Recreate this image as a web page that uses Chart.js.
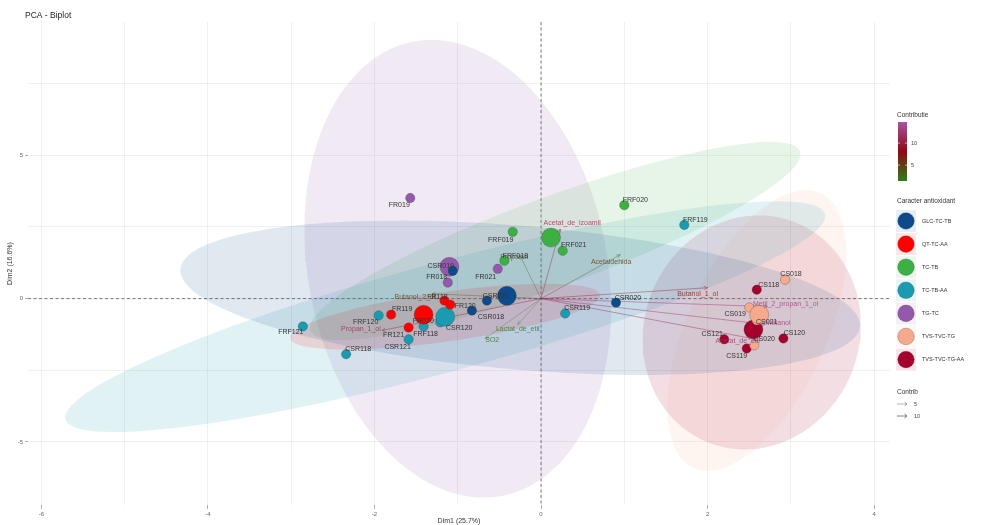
<!DOCTYPE html>
<html>
<head>
<meta charset="utf-8">
<script src="https://cdn.jsdelivr.net/npm/chart.js@4.4.1/dist/chart.umd.min.js"></script>
<style>
  html, body { margin: 0; padding: 0; background: #fff; }
  #wrap { width: 981px; height: 525px; }
</style>
</head>
<body>
<div id="wrap"><canvas id="mychart" width="981" height="525"></canvas></div>
<script>
// grupuri (Caracter antioxidant)
var grupuri = ['GLC-TC-TB', 'QT-TC-AA', 'TC-TB', 'TC-TB-AA', 'TG-TC', 'TVS-TVC-TG', 'TVS-TVC-TG-AA'];
var culoriGrup = ['#0c4a8c', '#ff0000', '#3cb043', '#1a9bb2', '#9459ad', '#f7aa8b', '#a6002c'];

// indivizi
var indivizi = ['CSR018', 'CSR019', 'CSR020', 'CSR021',
  'FR020', 'FR118', 'FR119', 'FR120', 'FR121',
  'FRF018', 'FRF019', 'FRF020', 'FRF021',
  'CSR118', 'CSR119', 'CSR120', 'CSR121', 'FRF118', 'FRF119', 'FRF120', 'FRF121',
  'FR018', 'FR019', 'FR021',
  'CS018', 'CS019', 'CS020', 'CS021',
  'CS118', 'CS119', 'CS120', 'CS121'];
var grupInd = [0, 0, 0, 0, 1, 1, 1, 1, 1, 2, 2, 2, 2, 3, 3, 3, 3, 3, 3, 3, 3, 4, 4, 4, 5, 5, 5, 5, 6, 6, 6, 6];
var dim1 = [-0.83, -1.06, 0.90, -0.65,
  -1.39, -1.16, -1.80, -1.09, -1.59,
  -0.44, -0.34, 1.00, 0.26,
  -2.34, 0.29, -1.21, -1.59, -1.41, 1.72, -1.95, -2.86,
  -1.12, -1.57, -0.52,
  2.93, 2.50, 2.56, 2.59,
  2.59, 2.47, 2.91, 2.20];
var dim2 = [-0.42, 0.97, -0.14, -0.07,
  -0.69, -0.07, -0.56, -0.21, -1.01,
  1.32, 2.33, 3.26, 1.67,
  -1.94, -0.52, -0.83, -1.42, -0.97, 2.57, -0.59, -0.97,
  0.56, 3.51, 1.04,
  0.66, -0.31, -1.63, -0.76,
  0.31, -1.74, -1.39, -1.42];

// centrele grupurilor
var medieDim1 = [-0.41, -1.41, 0.12, -1.15, -1.10, 2.62, 2.55];
var medieDim2 = [0.10, -0.56, 2.13, -0.63, 1.11, -0.56, -1.08];

// variabile
var variabile = ['Acetat_de_izoamil', 'Acetaldehida', 'Butanol_1_ol', 'Metil_2_propan_1_ol', 'Metanol',
  'Acetat_de_etil', 'Propanol', 'Butanol_2_ol', 'Propan_1_ol', 'Lactat_de_etil', 'SO2'];
var varDim1 = [0.23, 0.95, 2.00, 2.72, 2.69, 2.53, -0.25, -1.31, -1.91, -0.28, -0.67];
var varDim2 = [2.43, 1.53, 0.38, -0.28, -0.90, -1.39, 1.49, 0.17, -1.11, -0.90, -1.39];
var contrib = [11, 5, 7, 13, 13, 12, 4, 5, 11, 1.5, 2.5];

// elipse: centru + doi vectori conjugati (unitati Dim1/Dim2)
var elCx = [-0.25, -1.15, 0.17, -1.15, -1.00, 2.59, 2.53];
var elCy = [0.03, -0.63, 2.01, -0.63, 1.04, -1.11, -1.18];
var elUx = [4.08, 1.86, 2.94, 4.56, -0.54, 0.76, 0.36];
var elUy = [-1.00, 0.76, 3.13, 3.58, 7.92, 4.79, 3.99];
var elVx = [-0.07, 0.04, 0.19, 0.17, 1.76, 0.76, 1.26];
var elVy = [-2.50, -0.86, -1.46, -1.84, 1.01, -1.00, -0.87];

var xTicks = [-6, -4, -2, 0, 2, 4];
var yTicks = [-5, 0, 5];

// pozitii etichete (px fata de punct)
var offInd = {
  CSR018: [19, 6], CSR019: [-12, -5], CSR020: [12, -5], CSR021: [9, -5],
  FR020: [-2, 3], FR118: [-7, -4], FR119: [11, -6], FR120: [15, 1], FR121: [-15, 7],
  FRF018: [11, -5], FRF019: [-12, 8], FRF020: [11, -5], FRF021: [11, -6],
  CSR118: [12, -5], CSR119: [12, -5], CSR120: [19, 6], CSR121: [-11, 8],
  FRF118: [2, 8], FRF119: [11, -5], FRF120: [-13, 7], FRF121: [-12, 6],
  FR018: [-11, -5], FR019: [-11, 7], FR021: [-12, 8],
  CS018: [6, -6], CS019: [-14, 7], CS020: [10, -6], CS021: [10, 2],
  CS118: [12, -5], CS119: [-10, 8], CS120: [11, -5], CS121: [-12, -5]
};
var offVar = {
  Acetat_de_izoamil: [12, -6], Acetaldehida: [-9, 7], Butanol_1_ol: [-10, 6],
  Metil_2_propan_1_ol: [18, -3], Metanol: [13, -1], Acetat_de_etil: [-14, 3],
  Propanol: [-6, 1], Butanol_2_ol: [-17, 3], Propan_1_ol: [-21, -1],
  Lactat_de_etil: [0, 5], SO2: [7, 2]
};

var cMin = 1.4, cMax = 14.8;
var stopuri = [[46, 125, 30], [139, 10, 20], [166, 84, 160]];

function culoareContrib(c, a) {
  var t = (c - cMin) / (cMax - cMin);
  t = Math.max(0, Math.min(1, t));
  var s, k;
  if (t < 0.5) { s = 0; k = t / 0.5; } else { s = 1; k = (t - 0.5) / 0.5; }
  var p = stopuri[s], q = stopuri[s + 1];
  var r = Math.round(p[0] + (q[0] - p[0]) * k);
  var g = Math.round(p[1] + (q[1] - p[1]) * k);
  var b = Math.round(p[2] + (q[2] - p[2]) * k);
  return 'rgba(' + r + ',' + g + ',' + b + ',' + a + ')';
}

function hexRgba(h, a) {
  var r = parseInt(h.substr(1, 2), 16), g = parseInt(h.substr(3, 2), 16), b = parseInt(h.substr(5, 2), 16);
  return 'rgba(' + r + ',' + g + ',' + b + ',' + a + ')';
}

function punctePeElipsa(i) {
  var pts = [];
  for (var k = 0; k <= 120; k++) {
    var t = k / 120 * Math.PI * 2;
    pts.push({
      x: elCx[i] + elUx[i] * Math.cos(t) + elVx[i] * Math.sin(t),
      y: elCy[i] + elUy[i] * Math.cos(t) + elVy[i] * Math.sin(t)
    });
  }
  return pts;
}

var datasets = [];

// elipse
grupuri.forEach(function (g, i) {
  datasets.push({
    tip: 'elipsa',
    data: punctePeElipsa(i),
    showLine: true,
    fill: 'shape',
    backgroundColor: hexRgba(culoriGrup[i], 0.13),
    borderColor: 'rgba(0,0,0,0)',
    borderWidth: 0,
    pointRadius: 0,
    order: 3
  });
});

// sageti variabile
variabile.forEach(function (v, i) {
  datasets.push({
    tip: 'sageata',
    nume: v,
    data: [{ x: 0, y: 0 }, { x: varDim1[i], y: varDim2[i] }],
    showLine: true,
    fill: false,
    borderColor: culoareContrib(contrib[i], 0.55),
    borderWidth: 0.5 + contrib[i] * 0.03,
    pointRadius: 0,
    order: 2
  });
});

// puncte (indivizi + media grupului)
grupuri.forEach(function (g, i) {
  var pts = [], nume = [], raze = [];
  indivizi.forEach(function (n, j) {
    if (grupInd[j] === i) {
      pts.push({ x: dim1[j], y: dim2[j] });
      nume.push(n);
      raze.push(4.7);
    }
  });
  pts.push({ x: medieDim1[i], y: medieDim2[i] });
  nume.push('');
  raze.push(9.5);
  datasets.push({
    tip: 'puncte',
    nume: nume,
    data: pts,
    backgroundColor: culoriGrup[i],
    borderColor: 'rgba(60,60,60,0.5)',
    borderWidth: 0.6,
    pointRadius: raze,
    order: 1
  });
});

var desenExtra = {
  id: 'desenExtra',
  beforeDatasetsDraw: function (chart) {
    var c = chart.ctx, a = chart.chartArea;
    var xs = chart.scales.x, ys = chart.scales.y;
    var x0 = xs.getPixelForValue(0), y0 = ys.getPixelForValue(0);
    c.save();
    c.strokeStyle = '#444';
    c.lineWidth = 0.7;
    c.setLineDash([3, 2.5]);
    c.beginPath();
    c.moveTo(x0, a.top); c.lineTo(x0, a.bottom);
    c.moveTo(a.left, y0); c.lineTo(a.right, y0);
    c.stroke();
    c.restore();
  },
  afterDatasetsDraw: function (chart) {
    var c = chart.ctx;
    c.save();
    c.textAlign = 'center';
    c.textBaseline = 'middle';
    chart.data.datasets.forEach(function (ds, di) {
      var meta = chart.getDatasetMeta(di);
      if (ds.tip === 'sageata') {
        var p0 = meta.data[0], p1 = meta.data[1];
        var ang = Math.atan2(p1.y - p0.y, p1.x - p0.x);
        c.strokeStyle = ds.borderColor;
        c.lineWidth = ds.borderWidth;
        c.beginPath();
        c.moveTo(p1.x - 4 * Math.cos(ang - 0.45), p1.y - 4 * Math.sin(ang - 0.45));
        c.lineTo(p1.x, p1.y);
        c.lineTo(p1.x - 4 * Math.cos(ang + 0.45), p1.y - 4 * Math.sin(ang + 0.45));
        c.stroke();
      }
    });
    // etichete variabile
    c.font = '7px "Liberation Sans", Arial, sans-serif';
    chart.data.datasets.forEach(function (ds, di) {
      if (ds.tip !== 'sageata') return;
      var p1 = chart.getDatasetMeta(di).data[1];
      var o = offVar[ds.nume] || [0, 0];
      var i = variabile.indexOf(ds.nume);
      c.fillStyle = culoareContrib(contrib[i], 0.8);
      c.fillText(ds.nume, p1.x + o[0], p1.y + o[1]);
    });
    // etichete indivizi
    c.fillStyle = '#333';
    chart.data.datasets.forEach(function (ds, di) {
      if (ds.tip !== 'puncte') return;
      var meta = chart.getDatasetMeta(di);
      ds.nume.forEach(function (n, k) {
        if (!n) return;
        var p = meta.data[k];
        var o = offInd[n] || [0, -8];
        c.fillText(n, p.x + o[0], p.y + o[1]);
      });
    });
    c.restore();
  },
  afterDraw: function (chart) {
    var c = chart.ctx, a = chart.chartArea;
    c.save();
    c.fillStyle = '#222';
    c.textBaseline = 'middle';
    c.font = '8.5px "Liberation Sans", Arial, sans-serif';
    c.textAlign = 'left';
    c.fillText('PCA - Biplot', 25, 16);
    c.fillStyle = '#333';
    c.font = '7px "Liberation Sans", Arial, sans-serif';
    c.textAlign = 'center';
    c.fillText('Dim1 (25.7%)', (a.left + a.right) / 2, 521);
    c.save();
    c.translate(10, (a.top + a.bottom) / 2);
    c.rotate(-Math.PI / 2);
    c.fillText('Dim2 (16.6%)', 0, 0);
    c.restore();

    // legenda Contributie
    var lx = 897;
    c.textAlign = 'left';
    c.font = '6.5px "Liberation Sans", Arial, sans-serif';
    c.fillStyle = '#333';
    c.fillText('Contributie', lx, 115);
    var gTop = 122, gBot = 181;
    var grad = c.createLinearGradient(0, gBot, 0, gTop);
    grad.addColorStop(0, 'rgb(46,125,30)');
    grad.addColorStop(0.5, 'rgb(139,10,20)');
    grad.addColorStop(1, 'rgb(166,84,160)');
    c.fillStyle = grad;
    c.fillRect(lx + 1, gTop, 9, gBot - gTop);
    [5, 10].forEach(function (v) {
      var yy = gBot - (v - cMin) / (cMax - cMin) * (gBot - gTop);
      c.strokeStyle = '#fff';
      c.lineWidth = 0.6;
      c.beginPath();
      c.moveTo(lx + 1, yy); c.lineTo(lx + 3, yy);
      c.moveTo(lx + 8, yy); c.lineTo(lx + 10, yy);
      c.stroke();
      c.fillStyle = '#444';
      c.font = '5.5px "Liberation Sans", Arial, sans-serif';
      c.fillText(String(v), lx + 14, yy);
    });

    // legenda grupuri
    c.font = '6.5px "Liberation Sans", Arial, sans-serif';
    c.fillStyle = '#333';
    c.fillText('Caracter antioxidant', lx, 201);
    grupuri.forEach(function (g, i) {
      var yy = 221 + i * 23.1;
      c.fillStyle = hexRgba(culoriGrup[i], 0.1);
      c.fillRect(lx - 1, yy - 11, 20, 22);
      c.beginPath();
      c.arc(lx + 9, yy, 8.3, 0, Math.PI * 2);
      c.fillStyle = culoriGrup[i];
      c.fill();
      c.strokeStyle = 'rgba(60,60,60,0.5)';
      c.lineWidth = 0.6;
      c.stroke();
      c.fillStyle = '#333';
      c.font = '5.5px "Liberation Sans", Arial, sans-serif';
      c.fillText(g, lx + 25, yy);
    });

    // legenda Contrib
    c.font = '6.5px "Liberation Sans", Arial, sans-serif';
    c.fillText('Contrib', lx, 392);
    [[5, 404, 0.5], [10, 416, 0.8]].forEach(function (r) {
      c.strokeStyle = '#666';
      c.lineWidth = r[2];
      c.beginPath();
      c.moveTo(lx, r[1]); c.lineTo(lx + 10, r[1]);
      c.moveTo(lx + 7.5, r[1] - 2); c.lineTo(lx + 10, r[1]); c.lineTo(lx + 7.5, r[1] + 2);
      c.stroke();
      c.fillStyle = '#444';
      c.font = '5.5px "Liberation Sans", Arial, sans-serif';
      c.fillText(String(r[0]), lx + 17, r[1]);
    });
    c.restore();
  }
};

var myChart = new Chart(document.getElementById('mychart').getContext('2d'), {
  type: 'scatter',
  data: { datasets: datasets },
  options: {
    responsive: false,
    animation: false,
    events: [],
    layout: { padding: { left: 0, right: 91, top: 22, bottom: 0 } },
    plugins: {
      legend: { display: false },
      tooltip: { enabled: false },
      title: { display: false }
    },
    scales: {
      x: {
        type: 'linear',
        min: -6.16,
        max: 4.19,
        afterFit: function (s) { s.height = 20; },
        afterBuildTicks: function (s) {
          var t = [];
          for (var v = -6; v <= 4; v++) t.push({ value: v });
          s.ticks = t;
        },
        ticks: {
          autoSkip: false,
          maxRotation: 0,
          padding: 2,
          color: '#666',
          font: { size: 6, family: '"Liberation Sans", Arial, sans-serif' },
          callback: function (v) { return xTicks.indexOf(v) >= 0 ? String(v) : ''; }
        },
        grid: {
          color: '#ececec',
          lineWidth: 0.8,
          tickLength: 4,
          tickColor: function (ctx) { return xTicks.indexOf(ctx.tick.value) >= 0 ? '#999' : 'rgba(0,0,0,0)'; }
        },
        border: { display: false }
      },
      y: {
        type: 'linear',
        min: -7.2,
        max: 9.65,
        afterFit: function (s) { s.width = 28; },
        afterBuildTicks: function (s) {
          s.ticks = [-5, -2.5, 0, 2.5, 5, 7.5].map(function (v) { return { value: v }; });
        },
        ticks: {
          autoSkip: false,
          padding: 2,
          color: '#666',
          font: { size: 6, family: '"Liberation Sans", Arial, sans-serif' },
          callback: function (v) { return yTicks.indexOf(v) >= 0 ? String(v) : ''; }
        },
        grid: {
          color: '#ececec',
          lineWidth: 0.8,
          tickLength: 3,
          tickColor: function (ctx) { return yTicks.indexOf(ctx.tick.value) >= 0 ? '#999' : 'rgba(0,0,0,0)'; }
        },
        border: { display: false }
      }
    }
  },
  plugins: [desenExtra]
});
</script>
</body>
</html>
